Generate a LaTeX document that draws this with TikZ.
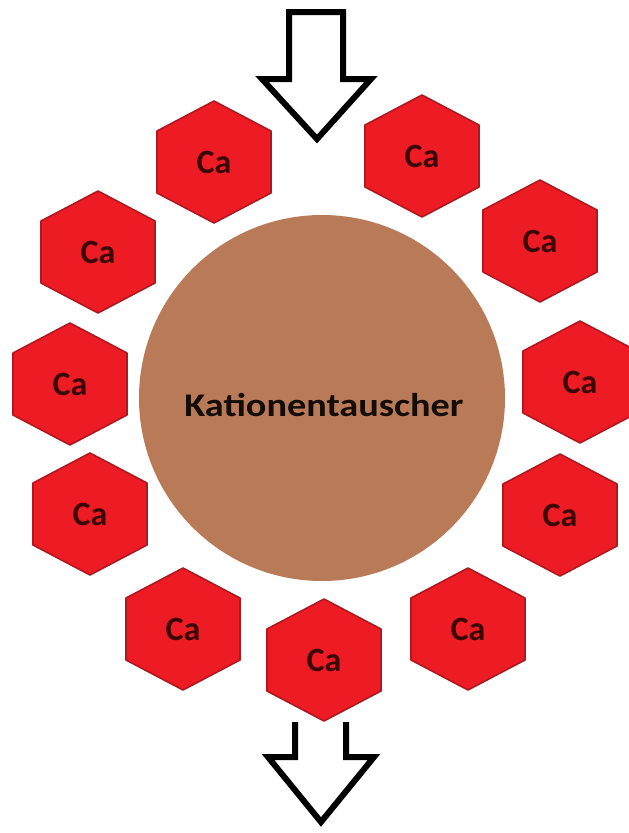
\documentclass[tikz,border=0pt]{standalone}
\usepackage{fontspec}
\setmainfont{Carlito}
\usepackage{xcolor}
\usetikzlibrary{arrows.meta}

\definecolor{hexred}{HTML}{ED1C24}
\definecolor{hexedge}{HTML}{B01820}
\definecolor{resin}{HTML}{B97A57}
\definecolor{catext}{HTML}{3A0606}

\tikzset{
  ion/.style={fill=hexred, draw=hexedge, line width=1.6pt, line join=round},
  iontext/.style={inner sep=0pt, text=catext, font=\bfseries\fontsize{34}{34}\selectfont},
  bead/.style={circle, fill=resin, minimum size=366pt, inner sep=0pt},
  beadtext/.style={inner sep=0pt, text=black!90!resin, font=\bfseries\fontsize{33}{33}\selectfont},
  flow/.style={draw=black, line width=6pt, line join=miter, fill=white}
}

\begin{document}
\begin{tikzpicture}[x=1pt, y=-1pt]
    \useasboundingbox (0,0) rectangle (629,833);
    \pgfmathsetmacro{\hexW}{57}  % half width of a hexagon
    \pgfmathsetmacro{\hexS}{31}  % shoulder height
    \pgfmathsetmacro{\hexT}{61}  % tip height
    % the resin bead
    \node[bead] (harz) at (322,398) {};
    \node[beadtext] (tauscher) at (324,405) {\scalebox{1.16}[1]{Kationentauscher}};
    % calcium ions round the bead
    \foreach \x/\y [count=\i] in {214/162, 422/156, 98/252, 540/241,
                                  70/384, 580/382, 90/514, 560/515,
                                  183/629, 468/629, 324/660} {
      \path[ion] (\x,\y) +(0,-\hexT) -- +(\hexW,-\hexS) -- +(\hexW,\hexS)
        -- +(0,\hexT) -- +(-\hexW,\hexS) -- +(-\hexW,-\hexS) -- cycle;
      \node[iontext] (ca\i) at (\x,\y) {Ca};
    }
    % inflow and outflow
    \path[flow] (289,12) -- (343,12) -- (343,79) -- (371,79)
      -- (317,139) -- (262,79) -- (289,79) -- cycle;
    \draw[flow, fill=none] (295,722) -- (295,757) -- (268,757)
      -- (321,822) -- (374,757) -- (346,757) -- (346,722);
\end{tikzpicture}
\end{document}
